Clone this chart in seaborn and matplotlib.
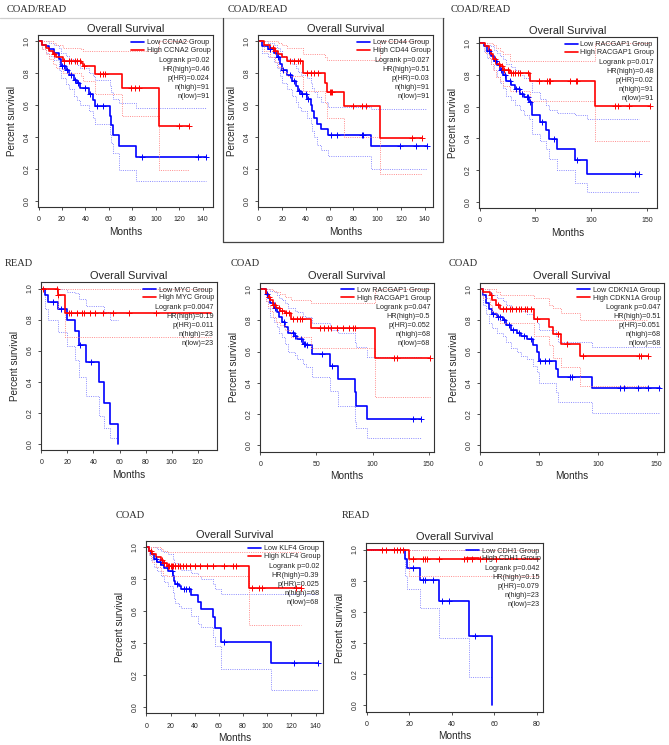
import numpy as np
import matplotlib
import matplotlib.pyplot as plt
import seaborn as sns
from matplotlib.lines import Line2D

# Use non-interactive backend for matplotlib (for headless environments)
matplotlib.use('Agg')

W, H = 669, 745

# ---- panel texts ----
COHORTS = ['COAD/READ', 'COAD/READ', 'COAD/READ', 'READ', 'COAD', 'COAD', 'COAD', 'READ']
GENES = ['CCNA2', 'CD44', 'RACGAP1', 'MYC', 'RACGAP1', 'CDKN1A', 'KLF4', 'CDH1']
LOGRANK_P = ['0.02', '0.027', '0.017', '0.0047', '0.047', '0.047', '0.02', '0.042']
HR_HIGH = ['0.46', '0.51', '0.48', '0.19', '0.5', '0.51', '0.39', '0.15']
P_HR = ['0.024', '0.03', '0.02', '0.011', '0.052', '0.051', '0.025', '0.079']
N_HIGH = [91, 91, 91, 23, 68, 68, 68, 23]
N_LOW = [91, 91, 91, 23, 68, 68, 68, 23]
X_TICK_STEP = [20, 20, 50, 20, 50, 50, 20, 20]
X_TICK_MAX = [140, 140, 150, 120, 150, 150, 140, 80]

# ---- panel 1: CCNA2 ----
P1_LOW_T = [0, 3, 6, 9, 13, 17, 19, 23, 26, 30, 33, 35, 43, 46, 48, 60.5, 62, 63.5, 68.5, 83]
P1_LOW_S = [1.0, 0.98, 0.97, 0.95, 0.93, 0.89, 0.845, 0.82, 0.79, 0.76, 0.74, 0.71, 0.67, 0.63, 0.595, 0.53, 0.475, 0.41, 0.345, 0.277]
P1_LOW_LO = [1.0, 0.95, 0.93, 0.91, 0.88, 0.82, 0.77, 0.73, 0.70, 0.66, 0.63, 0.60, 0.56, 0.52, 0.48, 0.42, 0.36, 0.30, 0.19, 0.125]
P1_LOW_HI = [1.0, 1.0, 1.0, 0.99, 0.98, 0.96, 0.93, 0.91, 0.89, 0.87, 0.85, 0.83, 0.80, 0.78, 0.76, 0.72, 0.68, 0.64, 0.61, 0.58]
P1_LOW_CENS = [20, 22, 24, 28, 31, 34, 40, 44, 50, 55, 88, 136, 143]
P1_HIGH_T = [0, 3, 6, 9, 12, 15, 20.5, 36, 37.7, 48, 71.5, 103]
P1_HIGH_S = [1.0, 0.98, 0.96, 0.94, 0.92, 0.90, 0.877, 0.863, 0.846, 0.795, 0.705, 0.47]
P1_HIGH_LO = [1.0, 0.95, 0.92, 0.89, 0.86, 0.83, 0.80, 0.78, 0.75, 0.67, 0.53, 0.195]
P1_HIGH_HI = [1.0, 1.0, 1.0, 1.0, 0.99, 0.98, 0.96, 0.95, 0.94, 0.94, 0.94, 1.0]
P1_HIGH_CENS = [13, 22, 26, 28, 31, 33, 35, 39, 52, 55, 57, 79, 82, 86, 120, 128]
P1_END = [143, 128]

# ---- panel 2: CD44 ----
P2_LOW_T = [0, 3, 8, 13, 16, 18, 20, 24, 28, 32, 33, 36, 41, 44, 45, 47, 49, 53, 59, 95]
P2_LOW_S = [1.0, 0.97, 0.95, 0.93, 0.90, 0.86, 0.82, 0.79, 0.75, 0.72, 0.69, 0.67, 0.64, 0.60, 0.56, 0.52, 0.48, 0.45, 0.41, 0.34]
P2_LOW_LO = [1.0, 0.93, 0.90, 0.87, 0.83, 0.78, 0.74, 0.70, 0.66, 0.62, 0.59, 0.56, 0.52, 0.48, 0.44, 0.40, 0.35, 0.32, 0.28, 0.20]
P2_LOW_HI = [1.0, 1.0, 0.99, 0.98, 0.96, 0.94, 0.91, 0.89, 0.86, 0.83, 0.81, 0.79, 0.77, 0.74, 0.71, 0.68, 0.65, 0.62, 0.59, 0.575]
P2_LOW_CENS = [10, 17, 21, 27, 30, 34, 37, 40, 42, 61, 66, 87, 88, 119, 133, 142]
P2_HIGH_T = [0, 5, 10, 14, 17, 20, 24, 37.5, 56, 58, 72, 102]
P2_HIGH_S = [1.0, 0.98, 0.96, 0.94, 0.92, 0.90, 0.875, 0.80, 0.74, 0.68, 0.595, 0.395]
P2_HIGH_LO = [1.0, 0.94, 0.90, 0.87, 0.84, 0.81, 0.78, 0.69, 0.61, 0.52, 0.40, 0.17]
P2_HIGH_HI = [1.0, 1.0, 1.0, 1.0, 0.99, 0.98, 0.96, 0.92, 0.90, 0.88, 0.88, 1.0]
P2_HIGH_CENS = [12, 14, 27, 30, 33, 35, 41, 44, 47, 50, 60, 61, 62, 80, 87, 91, 129, 138]
P2_END = [142, 138]

# ---- panel 3: RACGAP1 (COAD/READ) ----
P3_LOW_T = [0, 4, 7, 10, 13, 16, 18, 21, 24, 28, 32, 36, 40, 44, 47, 54, 59, 62, 69, 85, 96]
P3_LOW_S = [1.0, 0.98, 0.95, 0.92, 0.89, 0.86, 0.83, 0.80, 0.76, 0.735, 0.71, 0.68, 0.66, 0.63, 0.55, 0.505, 0.455, 0.395, 0.33, 0.26, 0.175]
P3_LOW_LO = [1.0, 0.95, 0.91, 0.87, 0.83, 0.79, 0.75, 0.72, 0.67, 0.64, 0.61, 0.58, 0.55, 0.52, 0.43, 0.38, 0.33, 0.27, 0.20, 0.12, 0.06]
P3_LOW_HI = [1.0, 1.0, 0.99, 0.98, 0.96, 0.94, 0.92, 0.90, 0.87, 0.85, 0.83, 0.80, 0.78, 0.76, 0.69, 0.65, 0.61, 0.58, 0.56, 0.55, 0.52]
P3_LOW_CENS = [8, 15, 19, 23, 27, 33, 35, 38, 42, 43, 45, 56, 67, 87, 139, 143]
P3_HIGH_T = [0, 5, 8, 10, 12, 15, 18, 21, 27, 45, 103]
P3_HIGH_S = [1.0, 0.98, 0.96, 0.93, 0.90, 0.87, 0.855, 0.83, 0.81, 0.76, 0.605]
P3_HIGH_LO = [1.0, 0.94, 0.91, 0.87, 0.83, 0.79, 0.76, 0.73, 0.70, 0.635, 0.38]
P3_HIGH_HI = [1.0, 1.0, 1.0, 1.0, 0.99, 0.97, 0.95, 0.93, 0.89, 0.89, 1.0]
P3_HIGH_CENS = [14, 17, 20, 22, 25, 28, 30, 32, 34, 36, 43, 53, 60, 62, 63, 81, 86, 87, 121, 124, 134, 152]
P3_END = [143, 152]

# ---- panel 4: MYC (READ) ----
P4_LOW_T = [0, 3, 5, 13, 20, 26, 29, 34, 44, 48, 53, 59]
P4_LOW_S = [1.0, 0.955, 0.91, 0.865, 0.795, 0.725, 0.635, 0.525, 0.395, 0.26, 0.13, 0.0]
P4_LOW_LO = [1.0, 0.87, 0.80, 0.72, 0.63, 0.54, 0.43, 0.31, 0.18, 0.10, 0.04, np.nan]
P4_LOW_HI = [1.0, 1.0, 1.0, 1.0, 0.98, 0.97, 0.93, 0.89, 0.89, 0.85, 0.80, np.nan]
P4_LOW_CENS = [9, 15, 30, 38]
P4_HIGH_T = [0, 12.5, 18]
P4_HIGH_S = [1.0, 0.955, 0.84]
P4_HIGH_LO = [1.0, 0.87, 0.69]
P4_HIGH_HI = [1.0, 1.0, 1.0]
P4_HIGH_CENS = [1.5, 12, 13, 21, 23, 27, 31, 33, 37, 41, 47, 55, 67, 88]
P4_END = [59, 130]

# ---- panel 5: RACGAP1 (COAD) ----
P5_LOW_T = [0, 5, 7, 9, 12, 15, 17, 19, 22, 25, 31, 33, 38, 41, 46, 62, 69, 84, 85, 95]
P5_LOW_S = [1.0, 0.97, 0.94, 0.91, 0.88, 0.85, 0.82, 0.79, 0.76, 0.72, 0.70, 0.68, 0.65, 0.64, 0.585, 0.51, 0.425, 0.34, 0.255, 0.17]
P5_LOW_LO = [1.0, 0.92, 0.88, 0.82, 0.79, 0.76, 0.72, 0.69, 0.65, 0.60, 0.58, 0.55, 0.52, 0.50, 0.44, 0.35, 0.25, 0.15, 0.11, 0.05]
P5_LOW_HI = [1.0, 1.0, 1.0, 0.99, 0.98, 0.96, 0.94, 0.93, 0.91, 0.88, 0.86, 0.85, 0.83, 0.82, 0.78, 0.74, 0.72, 0.66, 0.63, 0.567]
P5_LOW_CENS = [6, 13, 21, 29, 31, 36, 39, 40, 42, 55, 64, 136, 143]
P5_HIGH_T = [0, 5, 7, 9, 11, 14, 18, 22, 27, 45, 102]
P5_HIGH_S = [1.0, 0.97, 0.95, 0.93, 0.90, 0.88, 0.86, 0.845, 0.805, 0.75, 0.56]
P5_HIGH_LO = [1.0, 0.92, 0.89, 0.86, 0.82, 0.79, 0.77, 0.74, 0.69, 0.62, 0.31]
P5_HIGH_HI = [1.0, 1.0, 1.0, 1.0, 0.99, 0.98, 0.97, 0.95, 0.93, 0.91, 1.0]
P5_HIGH_CENS = [8, 11, 13, 17, 19, 23, 26, 29, 33, 35, 37, 53, 57, 60, 63, 68, 74, 79, 83, 84, 119, 122, 151]
P5_END = [143, 151]

# ---- panel 6: CDKN1A (COAD) ----
P6_LOW_T = [0, 2, 5, 7, 10, 14, 19, 22, 26, 31, 35, 40, 45, 48, 50, 64, 66, 95]
P6_LOW_S = [1.0, 0.96, 0.91, 0.87, 0.84, 0.82, 0.80, 0.77, 0.74, 0.72, 0.70, 0.68, 0.64, 0.60, 0.54, 0.49, 0.435, 0.365]
P6_LOW_LO = [1.0, 0.90, 0.84, 0.78, 0.75, 0.72, 0.70, 0.66, 0.62, 0.60, 0.57, 0.55, 0.51, 0.47, 0.40, 0.34, 0.28, 0.21]
P6_LOW_HI = [1.0, 1.0, 1.0, 0.98, 0.96, 0.94, 0.92, 0.90, 0.88, 0.87, 0.86, 0.84, 0.81, 0.78, 0.74, 0.70, 0.66, 0.63]
P6_LOW_CENS = [11, 15, 17, 20, 24, 28, 33, 37, 43, 51, 55, 58, 76, 78, 119, 122, 134, 143, 152]
P6_HIGH_T = [0, 2, 8, 10, 13, 17, 46, 58, 62, 69, 85]
P6_HIGH_S = [1.0, 0.98, 0.96, 0.93, 0.90, 0.87, 0.81, 0.76, 0.71, 0.65, 0.57]
P6_HIGH_LO = [1.0, 0.94, 0.90, 0.85, 0.82, 0.78, 0.70, 0.64, 0.56, 0.50, 0.38]
P6_HIGH_HI = [1.0, 1.0, 1.0, 1.0, 0.98, 0.96, 0.94, 0.90, 0.88, 0.845, 0.80]
P6_HIGH_CENS = [9, 15, 19, 22, 25, 27, 30, 33, 35, 38, 40, 43, 48, 66, 74, 87, 135, 137, 143]
P6_END = [153, 143]

# ---- panel 7: KLF4 (COAD) ----
P7_LOW_T = [0, 2, 4, 6, 9, 12, 15, 18, 22, 23, 24, 27, 29, 37, 43, 45, 55, 57, 62, 103]
P7_LOW_S = [1.0, 0.98, 0.96, 0.93, 0.91, 0.89, 0.87, 0.85, 0.82, 0.79, 0.77, 0.755, 0.74, 0.70, 0.655, 0.615, 0.565, 0.495, 0.41, 0.275]
P7_LOW_LO = [1.0, 0.95, 0.92, 0.88, 0.85, 0.82, 0.78, 0.76, 0.72, 0.68, 0.65, 0.63, 0.62, 0.57, 0.52, 0.50, 0.44, 0.38, 0.24, 0.105]
P7_LOW_HI = [1.0, 1.0, 1.0, 1.0, 0.99, 0.98, 0.97, 0.96, 0.93, 0.91, 0.90, 0.88, 0.86, 0.84, 0.82, 0.80, 0.77, 0.74, 0.71, 0.71]
P7_LOW_CENS = [8, 11, 21, 25, 31, 33, 35, 64, 122, 142]
P7_HIGH_T = [0, 2, 5, 8, 12, 14, 17, 85]
P7_HIGH_S = [1.0, 0.98, 0.96, 0.94, 0.92, 0.90, 0.886, 0.745]
P7_HIGH_LO = [1.0, 0.95, 0.91, 0.88, 0.85, 0.83, 0.82, 0.515]
P7_HIGH_HI = [1.0, 1.0, 1.0, 1.0, 0.99, 0.98, 0.97, 0.97]
P7_HIGH_CENS = [4, 13, 15, 18, 19, 20, 21, 22, 24, 26, 28, 30, 33, 36, 40, 44, 50, 55, 64, 72, 74, 87, 93, 96, 124, 128]
P7_END = [142, 128]

# ---- panel 8: CDH1 (READ) ----
P8_LOW_T = [0, 18, 19, 25, 34, 48, 59]
P8_LOW_S = [1.0, 0.94, 0.88, 0.805, 0.67, 0.445, 0.0]
P8_LOW_LO = [1.0, 0.83, 0.75, 0.626, 0.43, 0.18, np.nan]
P8_LOW_HI = [1.0, 1.0, 1.0, 1.0, 1.0, 1.0, np.nan]
P8_LOW_CENS = [21.6, 26.5, 27.5, 31, 35.5, 38.5, 51]
P8_HIGH_T = [0, 20]
P8_HIGH_S = [1.0, 0.94]
P8_HIGH_LO = [1.0, 0.833]
P8_HIGH_HI = [1.0, 1.0]
P8_HIGH_CENS = [7, 9, 12.5, 14, 15.7, 17, 21.6, 26.4, 27.5, 28.2, 33.7, 45.5, 47, 49.4, 53.3, 56, 61]
P8_END = [59, 81]

PANEL_DATA = [
    (P1_LOW_T, P1_LOW_S, P1_LOW_LO, P1_LOW_HI, P1_LOW_CENS, P1_HIGH_T, P1_HIGH_S, P1_HIGH_LO, P1_HIGH_HI, P1_HIGH_CENS, P1_END),
    (P2_LOW_T, P2_LOW_S, P2_LOW_LO, P2_LOW_HI, P2_LOW_CENS, P2_HIGH_T, P2_HIGH_S, P2_HIGH_LO, P2_HIGH_HI, P2_HIGH_CENS, P2_END),
    (P3_LOW_T, P3_LOW_S, P3_LOW_LO, P3_LOW_HI, P3_LOW_CENS, P3_HIGH_T, P3_HIGH_S, P3_HIGH_LO, P3_HIGH_HI, P3_HIGH_CENS, P3_END),
    (P4_LOW_T, P4_LOW_S, P4_LOW_LO, P4_LOW_HI, P4_LOW_CENS, P4_HIGH_T, P4_HIGH_S, P4_HIGH_LO, P4_HIGH_HI, P4_HIGH_CENS, P4_END),
    (P5_LOW_T, P5_LOW_S, P5_LOW_LO, P5_LOW_HI, P5_LOW_CENS, P5_HIGH_T, P5_HIGH_S, P5_HIGH_LO, P5_HIGH_HI, P5_HIGH_CENS, P5_END),
    (P6_LOW_T, P6_LOW_S, P6_LOW_LO, P6_LOW_HI, P6_LOW_CENS, P6_HIGH_T, P6_HIGH_S, P6_HIGH_LO, P6_HIGH_HI, P6_HIGH_CENS, P6_END),
    (P7_LOW_T, P7_LOW_S, P7_LOW_LO, P7_LOW_HI, P7_LOW_CENS, P7_HIGH_T, P7_HIGH_S, P7_HIGH_LO, P7_HIGH_HI, P7_HIGH_CENS, P7_END),
    (P8_LOW_T, P8_LOW_S, P8_LOW_LO, P8_LOW_HI, P8_LOW_CENS, P8_HIGH_T, P8_HIGH_S, P8_HIGH_LO, P8_HIGH_HI, P8_HIGH_CENS, P8_END),
]

# axes boxes in pixels (left, top, right, bottom), right x-limit, cohort label position
AX_BOX = [(38, 35, 213, 207), (257.7, 35, 433, 207), (479, 37, 657, 208),
          (40.7, 282.3, 217, 450), (259.7, 282.7, 433.7, 451.7), (479.7, 282.7, 664, 451.7),
          (145.7, 541, 322.7, 713.3), (366, 543.3, 543.3, 711.7)]
X_RIGHT = [148.8, 147, 158.7, 134.8, 154.4, 156.2, 145.8, 83.1]
LABEL_XY = [(7, 9), (228, 9), (451, 9), (5, 263), (231, 263), (449, 263), (116, 516), (342, 516)]

BLUE, RED = '#0000ff', '#ff0000'
BLUE_CI, RED_CI = '#8c8cff', '#ff8c8c'


def step_xy(t, v, t_end):
    # carry the last value on to the end of follow-up
    return list(t) + [t_end], list(v) + [v[-1]]


def draw_group(ax, t, s, lo, hi, cens, t_end, color, ci_color, label):
    t = np.asarray(t, float)
    s = np.asarray(s, float)
    for band in (lo, hi):
        band = np.asarray(band, float)
        ok = np.isfinite(band)
        stop = t[~ok][0] if (~ok).any() else t_end
        bt, bv = step_xy(t[ok], band[ok], stop)
        sns.lineplot(x=bt, y=bv, drawstyle='steps-post', estimator=None, sort=False,
                     errorbar=None, color=ci_color, lw=0.7, linestyle=(0, (1, 1.3)), ax=ax)
    st, sv = step_xy(t, s, t_end)
    sns.lineplot(x=st, y=sv, drawstyle='steps-post', estimator=None, sort=False,
                 errorbar=None, color=color, lw=1.2, label=label, ax=ax)
    cens = np.asarray(cens, float)
    cy = s[np.searchsorted(t, cens, side='right') - 1]
    sns.scatterplot(x=cens, y=cy, marker='+', s=18, color=color, linewidth=0.7,
                    legend=False, ax=ax, zorder=4)


sns.set_theme(style='ticks')
plt.rcParams['font.family'] = ['Liberation Sans', 'DejaVu Sans']

fig = plt.figure(figsize=(W / 100, H / 100), dpi=100)

for i in range(8):
    l, t, r, b = AX_BOX[i]
    ax = fig.add_axes([l / W, 1 - b / H, (r - l) / W, (b - t) / H])
    (lt, ls, llo, lhi, lc, ht, hs, hlo, hhi, hc, end) = PANEL_DATA[i]
    draw_group(ax, lt, ls, llo, lhi, lc, end[0], BLUE, BLUE_CI, 'Low %s Group' % GENES[i])
    draw_group(ax, ht, hs, hlo, hhi, hc, end[1], RED, RED_CI, 'High %s Group' % GENES[i])

    ax.set_xlim(-0.5, X_RIGHT[i])
    ax.set_ylim(-0.04, 1.04)
    ax.set_xticks(np.arange(0, X_TICK_MAX[i] + 1, X_TICK_STEP[i]))
    ax.set_yticks(np.arange(0, 1.01, 0.2))
    ax.set_yticklabels(['%.1f' % v for v in np.arange(0, 1.01, 0.2)], rotation=90, va='center')
    ax.tick_params(axis='both', length=2.2, width=0.6, color='#333333', labelsize=5)
    ax.tick_params(axis='x', pad=4.5)
    ax.tick_params(axis='y', pad=3)
    for sp in ax.spines.values():
        sp.set_color('#333333')
        sp.set_linewidth(0.8)
    ax.set_title('Overall Survival', fontsize=7.9, pad=2.5)
    ax.set_xlabel('Months', fontsize=7.2, labelpad=2.5)
    ax.set_ylabel('Percent survival', fontsize=7.1, labelpad=5)

    ax.legend(loc='upper right', bbox_to_anchor=(0.985, 0.975), borderaxespad=0, borderpad=0,
              frameon=False, fontsize=5.2, handlelength=1.8, handletextpad=0.4, labelspacing=0.1)
    stats = ['Logrank p=%s' % LOGRANK_P[i], 'HR(high)=%s' % HR_HIGH[i], 'p(HR)=%s' % P_HR[i],
             'n(high)=%d' % N_HIGH[i], 'n(low)=%d' % N_LOW[i]]
    for k, txt in enumerate(stats):
        ax.annotate(txt, xy=(1, 1), xycoords='axes fraction', xytext=(-2.5, -18.1 - 6.5 * k),
                    textcoords='offset points', ha='right', va='center', fontsize=5.2)

    fig.text(LABEL_XY[i][0] / W, 1 - LABEL_XY[i][1] / H, COHORTS[i], family='Liberation Serif',
             fontsize=7.5, ha='left', va='center')

# frame around the top-left panels
frame = [((0, 18), (444, 18), '#cfcfcf'), ((223, 18), (223, 242), '#444444'),
         ((443, 18), (443, 242), '#444444'), ((223, 242), (443, 242), '#444444')]
for (x0, y0), (x1, y1), c in frame:
    fig.add_artist(Line2D([x0 / W, x1 / W], [1 - y0 / H, 1 - y1 / H], transform=fig.transFigure,
                          color=c, lw=0.9))

plt.savefig('out.png', dpi=100)
plt.close()
